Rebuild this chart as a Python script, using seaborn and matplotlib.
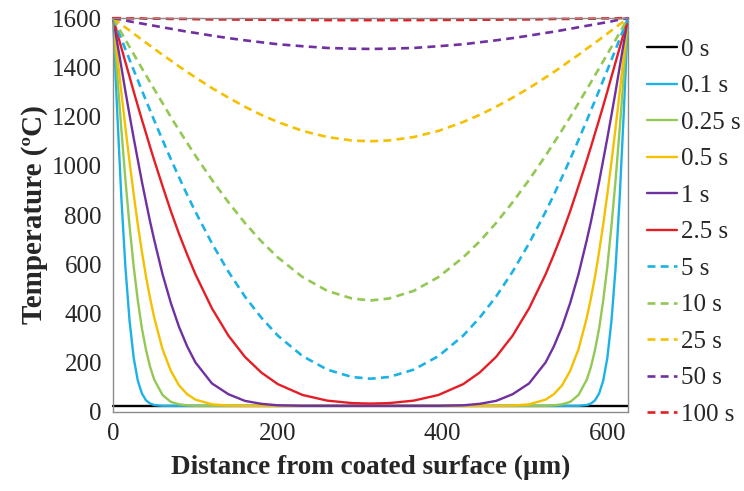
import pandas as pd
import matplotlib.pyplot as plt
import seaborn as sns

# distance from the coated surface (um), shared by the heating curves
x_um = [0, 5, 10, 15, 20, 25, 30, 35, 40, 45, 50, 60, 70, 80, 90, 100, 120, 140, 160, 180, 200, 230, 260, 290, 312.5,
        335, 365, 395, 425, 445, 465, 485, 505, 525, 535, 545, 555, 565, 575, 580, 585, 590, 595, 600, 605, 610, 615, 620, 625]

# 0 s is the flat starting line
x_ends = [0, 625]
t_0s = [25, 25]

t_01s = [1600, 1220, 872, 586, 370, 220, 127, 75, 47, 34, 28, 25, 25, 25, 25, 25, 25, 25, 25, 25, 25, 25, 25, 25, 25,
         25, 25, 25, 25, 25, 25, 25, 25, 25, 25, 25, 25, 25, 28, 34, 47, 75, 127, 220, 370, 586, 872, 1220, 1600]
t_025s = [1600, 1370, 1150, 942, 756, 591, 453, 339, 252, 182, 131, 69, 41, 31, 27, 25, 25, 25, 25, 25, 25, 25, 25, 25, 25,
          25, 25, 25, 25, 25, 25, 25, 25, 25, 27, 31, 41, 69, 131, 182, 252, 339, 453, 591, 756, 942, 1150, 1370, 1600]
t_05s = [1600, 1449, 1299, 1154, 1016, 885, 762, 651, 549, 461, 382, 255, 168, 108, 72, 50, 31, 26, 25, 25, 25, 25, 25, 25, 25,
         25, 25, 25, 25, 25, 25, 26, 31, 50, 72, 108, 168, 255, 382, 461, 549, 651, 762, 885, 1016, 1154, 1299, 1449, 1600]
t_1s = [1600, 1501, 1402, 1302, 1206, 1113, 1024, 935, 853, 772, 698, 560, 444, 346, 266, 201, 116, 72, 45, 33, 27, 25, 25, 25, 25,
        25, 25, 25, 27, 33, 45, 72, 116, 201, 266, 346, 444, 560, 698, 772, 853, 935, 1024, 1113, 1206, 1302, 1402, 1501, 1600]
t_25s = [1600, 1540, 1480, 1421, 1362, 1302, 1244, 1187, 1132, 1076, 1022, 918, 817, 724, 639, 559, 421, 310, 224, 160, 113, 69, 46, 36, 34,
         36, 46, 69, 113, 160, 224, 310, 421, 559, 639, 724, 817, 918, 1022, 1076, 1132, 1187, 1244, 1302, 1362, 1421, 1480, 1540, 1600]
t_5s = [1600, 1558, 1515, 1473, 1431, 1389, 1348, 1306, 1265, 1225, 1184, 1105, 1028, 954, 882, 813, 685, 570, 469, 383, 310, 227, 172, 142, 135,
        142, 172, 227, 310, 383, 469, 570, 685, 813, 882, 954, 1028, 1105, 1184, 1225, 1265, 1306, 1348, 1389, 1431, 1473, 1515, 1558, 1600]
t_10s = [1600, 1571, 1541, 1512, 1483, 1454, 1425, 1396, 1368, 1339, 1311, 1255, 1199, 1145, 1093, 1041, 943, 852, 768, 693, 628, 548, 492, 461, 453,
         461, 492, 548, 628, 693, 768, 852, 943, 1041, 1093, 1145, 1199, 1255, 1311, 1339, 1368, 1396, 1425, 1454, 1483, 1512, 1541, 1571, 1600]
t_25s_long = [1600, 1587, 1575, 1562, 1550, 1537, 1525, 1512, 1500, 1488, 1476, 1451, 1428, 1404, 1381, 1359, 1316, 1277, 1240, 1207, 1178, 1142, 1117, 1103, 1100,
              1103, 1117, 1142, 1178, 1207, 1240, 1277, 1316, 1359, 1381, 1404, 1428, 1451, 1476, 1488, 1500, 1512, 1525, 1537, 1550, 1562, 1575, 1587, 1600]
t_50s = [1600, 1597, 1594, 1591, 1587, 1584, 1581, 1578, 1575, 1572, 1569, 1563, 1557, 1551, 1545, 1540, 1529, 1519, 1510, 1502, 1494, 1486, 1479, 1476, 1475,
         1476, 1479, 1486, 1494, 1502, 1510, 1519, 1529, 1540, 1545, 1551, 1557, 1563, 1569, 1572, 1575, 1578, 1581, 1584, 1587, 1591, 1594, 1597, 1600]
t_100s = [1600, 1600, 1600, 1599, 1599, 1599, 1599, 1599, 1598, 1598, 1598, 1598, 1597, 1597, 1597, 1596, 1595, 1595, 1594, 1594, 1593, 1593, 1592, 1592, 1592,
          1592, 1592, 1593, 1593, 1594, 1594, 1595, 1595, 1596, 1597, 1597, 1597, 1598, 1598, 1598, 1598, 1599, 1599, 1599, 1599, 1599, 1600, 1600, 1600]

labels = ['0 s', '0.1 s', '0.25 s', '0.5 s', '1 s', '2.5 s', '5 s', '10 s', '25 s', '50 s', '100 s']
series = [t_0s, t_01s, t_025s, t_05s, t_1s, t_25s, t_5s, t_10s, t_25s_long, t_50s, t_100s]
colors = ['#000000', '#1cb2e6', '#92c853', '#f5c000', '#7030a0', '#e51e25',
          '#1cb2e6', '#92c853', '#f5c000', '#7030a0', '#e51e25']

rows = []
for lab, temps in zip(labels, series):
    xs = x_ends if lab == '0 s' else x_um
    for xv, tv in zip(xs, temps):
        rows.append({'x': xv, 'T': tv, 'time': lab})
df = pd.DataFrame(rows)

sns.set_style('white')
plt.rcParams['font.family'] = ['Liberation Serif', 'DejaVu Serif']

fig, ax = plt.subplots(figsize=(7.44, 4.91), dpi=100)
fig.subplots_adjust(left=0.152, right=0.844, bottom=0.161, top=0.963)

dash_map = {lab: '' for lab in labels[:6]}
dash_map.update({lab: (3, 2) for lab in labels[6:]})

sns.lineplot(data=df, x='x', y='T', hue='time', style='time', hue_order=labels, style_order=labels,
             palette=dict(zip(labels, colors)), dashes=dash_map, linewidth=1.7,
             sort=False, estimator=None, ax=ax)
for ln in ax.get_lines():
    ln.set_clip_on(False)
    if ln.get_linestyle() == '--':
        ln.set_linewidth(1.9)

ax.set_xlim(0, 625)
ax.set_ylim(0, 1600)
ax.set_xticks([0, 200, 400, 600])
ax.set_yticks(range(0, 1601, 200))
ax.set_xlabel('Distance from coated surface (µm)', fontsize=19.5, fontweight='bold', labelpad=7)
ax.set_ylabel('Temperature (ºC)', fontsize=21, fontweight='bold', labelpad=3)
ax.tick_params(direction='out', length=5, width=1, color='#888888', labelsize=18, pad=3)
for sp in ax.spines.values():
    sp.set_color('#8c8c8c')
    sp.set_linewidth(1)

handles, labs = ax.get_legend_handles_labels()
ax.legend(handles, labs, loc='upper left', bbox_to_anchor=(0.870, 0.922), bbox_transform=fig.transFigure,
          frameon=False, fontsize=18, handlelength=1.2, handletextpad=0.15, labelspacing=0.56,
          borderpad=0, borderaxespad=0)

plt.savefig('out.png', dpi=100)
